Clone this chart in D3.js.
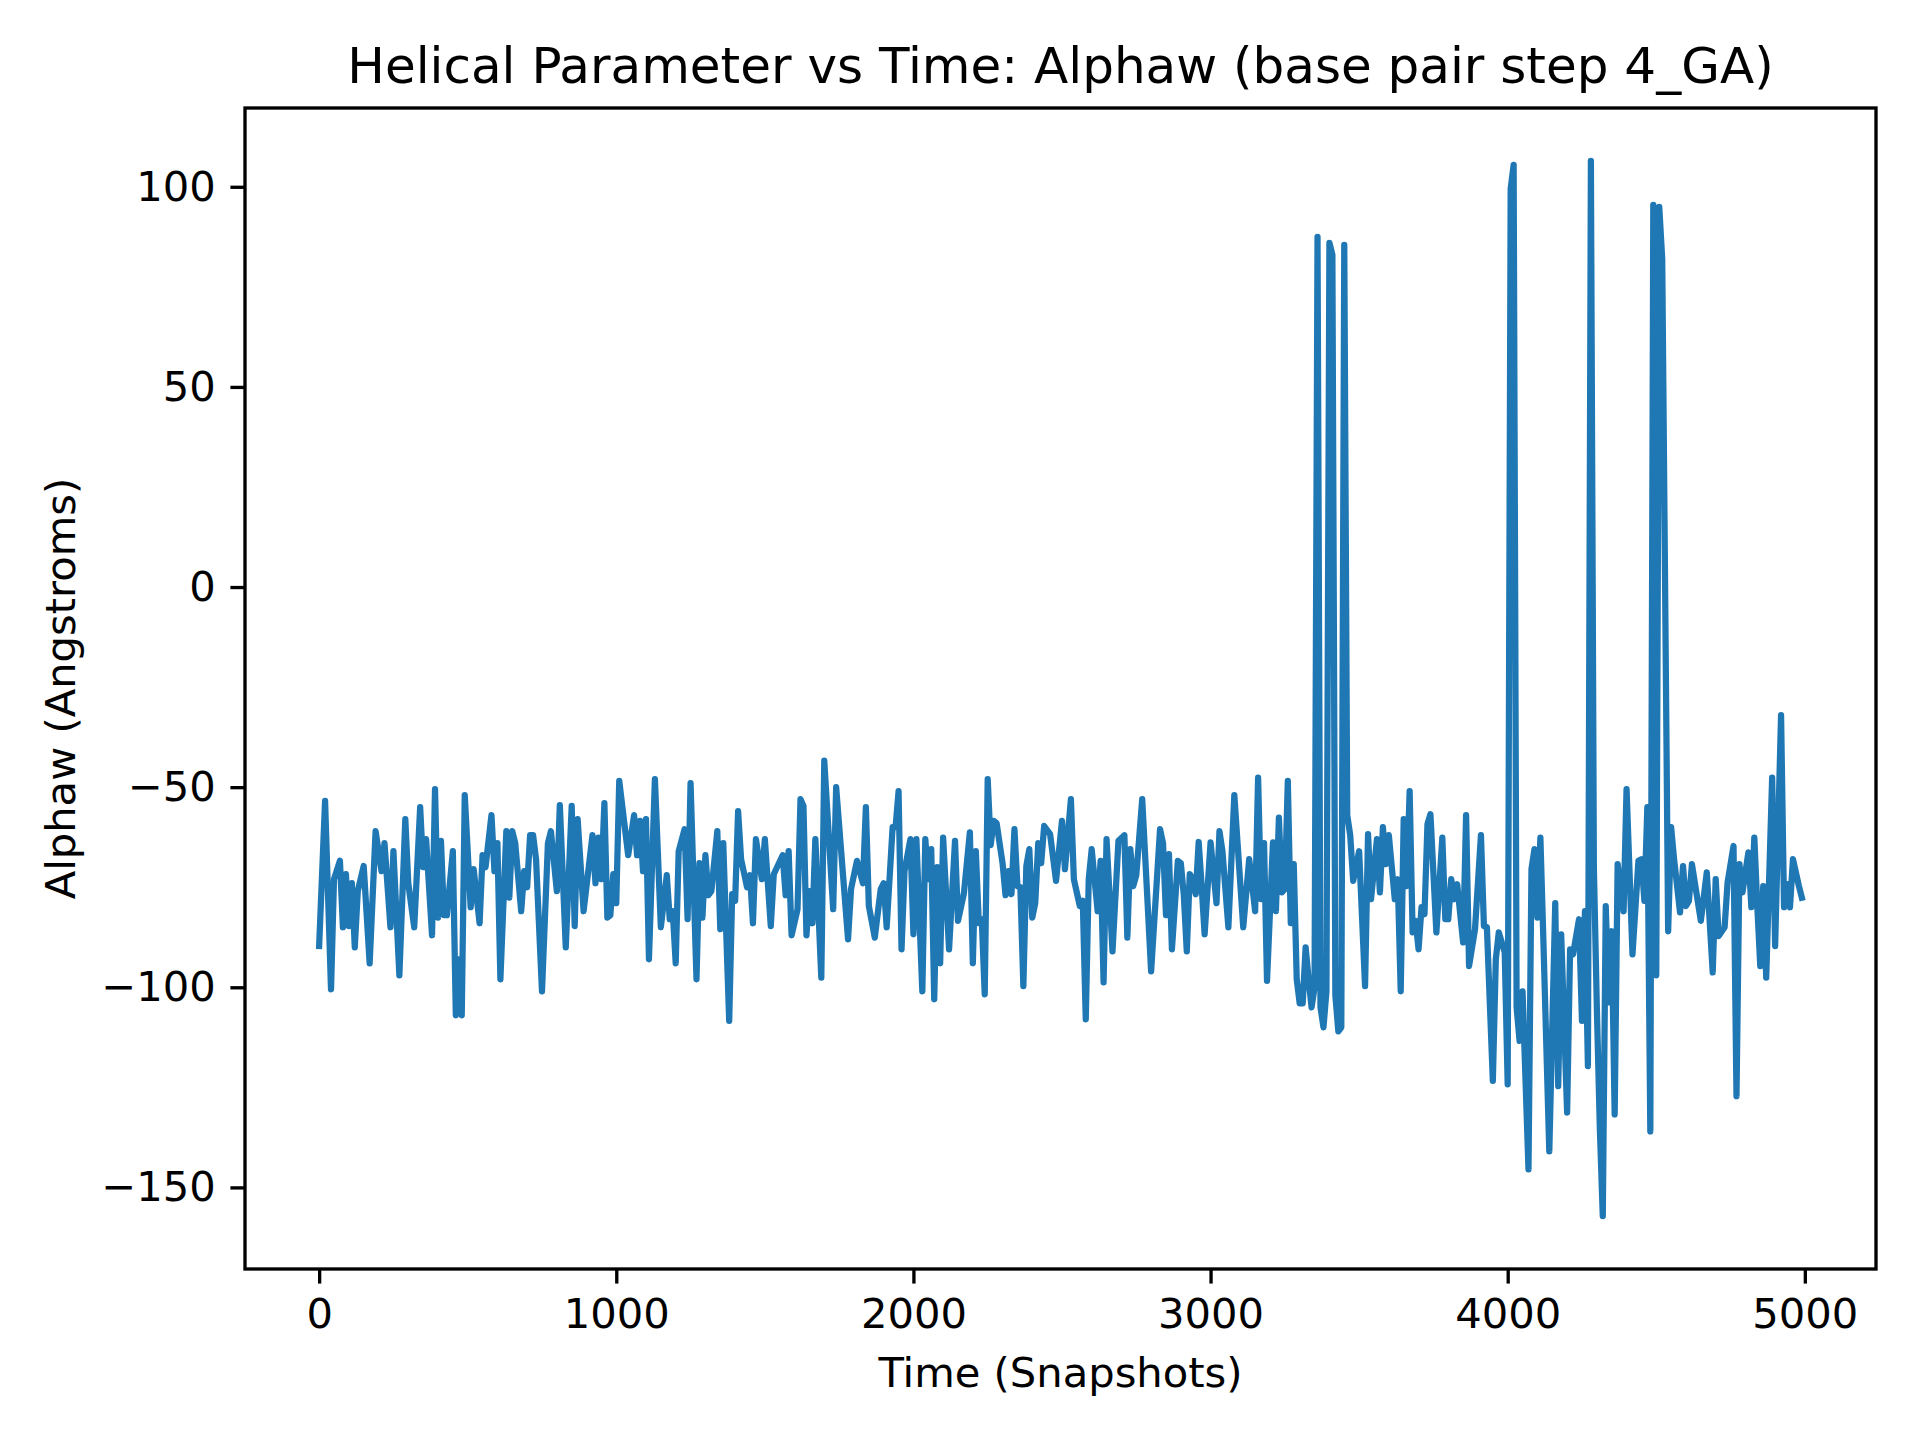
<!DOCTYPE html>
<html>
<head>
<meta charset="utf-8">
<title>Helical Parameter vs Time: Alphaw</title>
<script src="https://cdn.jsdelivr.net/npm/d3@7"></script>
<style>
  html, body { margin: 0; padding: 0; background: #fff; }
  svg { display: block; font-family: "DejaVu Sans", sans-serif; }
</style>
</head>
<body>
<svg id="chart" width="1920" height="1440"></svg>
<script>
// values (snapshot, Alphaw)
const snapshots = [
  0, 20, 40, 50, 70, 80, 90, 100, 110, 120,
  130, 150, 170, 190, 210, 220, 240, 250, 270, 290,
  300, 320, 340, 350, 360, 380, 390, 400, 410, 420,
  430, 450, 460, 470, 480, 490, 510, 520, 540, 550,
  560, 580, 590, 600, 610, 630, 640, 650, 660, 680,
  690, 700, 710, 720, 730, 750, 770, 780, 800, 810,
  830, 850, 860, 870, 890, 920, 930, 940, 950, 960,
  970, 980, 990, 1000, 1010, 1040, 1060, 1070, 1080, 1090,
  1100, 1110, 1130, 1150, 1170, 1180, 1190, 1200, 1210, 1230,
  1240, 1250, 1270, 1280, 1290, 1300, 1310, 1320, 1340, 1350,
  1360, 1380, 1390, 1400, 1410, 1420, 1440, 1450, 1460, 1470,
  1490, 1500, 1520, 1530, 1560, 1570, 1580, 1590, 1610, 1620,
  1630, 1640, 1650, 1660, 1670, 1690, 1700, 1730, 1740, 1780,
  1790, 1810, 1830, 1840, 1850, 1870, 1890, 1900, 1910, 1930,
  1940, 1950, 1960, 1970, 1990, 2000, 2010, 2030, 2040, 2050,
  2060, 2070, 2080, 2090, 2100, 2120, 2140, 2150, 2170, 2190,
  2200, 2210, 2220, 2230, 2240, 2250, 2260, 2270, 2280, 2300,
  2310, 2320, 2330, 2340, 2350, 2360, 2370, 2380, 2390, 2400,
  2410, 2420, 2430, 2440, 2460, 2480, 2500, 2510, 2530, 2540,
  2560, 2570, 2580, 2590, 2600, 2620, 2630, 2640, 2650, 2670,
  2690, 2710, 2720, 2730, 2740, 2750, 2770, 2800, 2830, 2840,
  2850, 2860, 2870, 2890, 2900, 2910, 2920, 2930, 2940, 2950,
  2960, 2970, 2980, 3000, 3020, 3030, 3040, 3060, 3080, 3110,
  3130, 3150, 3160, 3170, 3180, 3190, 3210, 3220, 3230, 3240,
  3250, 3260, 3270, 3280, 3290, 3300, 3310, 3320, 3330, 3340,
  3350, 3360, 3370, 3380, 3390, 3400, 3410, 3420, 3430, 3440,
  3450, 3460, 3470, 3480, 3500, 3520, 3530, 3540, 3560, 3570,
  3580, 3590, 3600, 3620, 3630, 3640, 3650, 3660, 3670, 3680,
  3690, 3700, 3710, 3720, 3730, 3740, 3760, 3780, 3790, 3800,
  3810, 3820, 3830, 3850, 3860, 3870, 3890, 3910, 3920, 3930,
  3950, 3960, 3970, 3990, 4000, 4010, 4020, 4030, 4040, 4050,
  4070, 4080, 4090, 4100, 4110, 4120, 4140, 4160, 4170, 4180,
  4200, 4210, 4220, 4240, 4250, 4260, 4270, 4280, 4290, 4300,
  4310, 4320, 4330, 4340, 4350, 4360, 4370, 4390, 4400, 4420,
  4440, 4450, 4460, 4470, 4480, 4490, 4500, 4510, 4520, 4540,
  4550, 4560, 4580, 4590, 4600, 4610, 4620, 4650, 4670, 4690,
  4700, 4710, 4730, 4740, 4760, 4770, 4780, 4790, 4810, 4820,
  4830, 4840, 4850, 4860, 4870, 4890, 4900, 4920, 4930, 4940,
  4950, 4960, 4980, 4990
];

const alphaw = [
  -89.7, -53.4, -100.5, -73, -68.4, -85, -71.7, -84.7, -74, -90,
  -76, -69.7, -94, -61, -71, -64, -85, -66, -97, -58,
  -74, -85, -55, -70, -63, -87, -50.5, -82.6, -63.4, -82,
  -82, -66, -107, -93, -107, -52, -80, -70.5, -84, -67,
  -70, -57, -71, -64, -98, -61, -77.6, -61, -64, -81,
  -71, -75, -62, -62, -68, -101, -64, -61, -76, -54.5,
  -90, -54.7, -84.7, -58, -81, -62, -74, -62.6, -73, -54,
  -82.6, -82, -71.75, -79, -48.4, -67, -57, -67, -58.4, -71,
  -58, -93, -48, -85, -72, -83, -81, -94, -66, -60.5,
  -83, -49, -98, -69, -82.6, -67, -77, -76, -61, -85.5,
  -64, -108.4, -76.7, -78.4, -56, -68, -75, -72, -84, -63,
  -73, -63, -84.7, -71.75, -67, -77, -66, -87, -80.5, -53,
  -54.7, -87, -76, -84, -63, -97.6, -43.4, -80.5, -50, -88,
  -75.5, -68.4, -74, -55, -79.7, -87.6, -75.5, -74, -85, -60,
  -60, -51, -90.5, -71, -63, -86.75, -63, -101, -63, -73,
  -65.5, -103, -70, -94, -62.6, -90.5, -63.4, -83.4, -76.5, -61.3,
  -94, -66, -84, -83, -101.75, -48, -64.5, -58.4, -59, -69,
  -77, -71, -76.75, -60.5, -74.7, -75, -99.7, -69.7, -65.5, -82.6,
  -79, -64, -69, -59.7, -61.75, -73.4, -58.4, -70.5, -53, -73,
  -79.7, -78.4, -108, -73, -65.5, -81, -68.4, -98.8, -63, -91,
  -63.4, -62, -87.6, -65.5, -74.7, -72, -53, -96, -60.5, -64,
  -82, -66.75, -90.5, -68.4, -69, -77, -91, -71.75, -73, -76.75,
  -63.7, -74.7, -86.75, -63.8, -79, -61, -66, -85, -52, -85,
  -68, -81, -47.6, -78, -64, -98.4, -63.8, -81, -57.6, -76.3,
  -75.5, -48.4, -84, -69.25, -98, -104, -104, -90, -98, -105,
  -100, 87.5, -105, -110, -101, 86, 83, -102, -111, -110,
  85.5, -57, -62, -73.4, -66, -99.7, -61.75, -78, -63, -76.3,
  -60, -69.25, -62, -78, -73, -101, -58, -74.7, -51, -86.3,
  -83.4, -90.5, -80, -81.75, -59.25, -56.75, -86.3, -62.6, -83, -83,
  -73, -78, -74.25, -88.8, -57, -94.7, -85.5, -62, -84.7, -85,
  -123.4, -93, -86.3, -91.3, -124.25, 99.5, 105.5, -105, -113.4, -101,
  -145.5, -70.5, -65.5, -82.6, -62.6, -88, -141, -79, -124.7, -86.75,
  -131.3, -90.5, -91.75, -83, -108.4, -81, -119.7, 106.5, -70, -105,
  -135, -157.2, -79.7, -103.8, -86, -131.75, -69.25, -81, -50.5, -91.75,
  -68.4, -68, -78.4, -55, -136, 95.5, -97, 95, 82, -86,
  -60, -68, -81.3, -69.7, -79.7, -78.4, -69.25, -83.4, -71.3, -96.3,
  -73, -87.2, -85, -73.8, -64.7, -127.2, -69.25, -76.3, -66.3, -80,
  -62.6, -79.7, -94.7, -74.7, -97.6, -47.6, -89.7, -32, -80, -74.25,
  -80, -68, -74.7, -77.6
];

const xTicks = [0, 1000, 2000, 3000, 4000, 5000];
const yTicks = [-150, -100, -50, 0, 50, 100];

const titleText = 'Helical Parameter vs Time: Alphaw (base pair step 4_GA)';
const xLabel = 'Time (Snapshots)';
const yLabel = 'Alphaw (Angstroms)';

// matplotlib-ish sizes at 300 dpi
const pt = 300 / 72;
const margin = { left: 245, right: 44, top: 108, bottom: 171 };
const W = 1920, H = 1440;
const iw = W - margin.left - margin.right;
const ih = H - margin.top - margin.bottom;

const points = snapshots.map((s, i) => ({ s, v: alphaw[i] }));

// 5% margins like autoscale
const pad = (lo, hi) => { const d = (hi - lo) * 0.05; return [lo - d, hi + d]; };
const x = d3.scaleLinear().domain(pad(...d3.extent(snapshots))).range([0, iw]);
const y = d3.scaleLinear().domain(pad(...d3.extent(alphaw))).range([ih, 0]);

const fmt = d => (d < 0 ? '\u2212' + Math.abs(d) : String(d));

const svg = d3.select('#chart');
svg.append('rect').attr('width', W).attr('height', H).attr('fill', '#fff');

const g = svg.append('g').attr('transform', `translate(${margin.left},${margin.top})`);

g.append('path')
  .datum(points)
  .attr('fill', 'none')
  .attr('stroke', '#1f77b4')
  .attr('stroke-width', 1.5 * pt)
  .attr('stroke-linejoin', 'round')
  .attr('stroke-linecap', 'square')
  .attr('d', d3.line().x(d => x(d.s)).y(d => y(d.v)));

const tickLen = 3.5 * pt;
const tickFont = 10 * pt;

const xAxis = g.append('g')
  .attr('transform', `translate(0,${ih})`)
  .call(d3.axisBottom(x).tickValues(xTicks).tickFormat(fmt)
    .tickSize(tickLen).tickPadding(tickLen));

const yAxis = g.append('g')
  .call(d3.axisLeft(y).tickValues(yTicks).tickFormat(fmt)
    .tickSize(tickLen).tickPadding(tickLen));

[xAxis, yAxis].forEach(a => {
  a.select('.domain').remove();
  a.selectAll('.tick line').attr('stroke', '#000').attr('stroke-width', 0.8 * pt);
  a.selectAll('.tick text')
    .attr('fill', '#000')
    .style('font-family', '"DejaVu Sans", sans-serif')
    .style('font-size', tickFont + 'px');
});

// spines
g.append('rect')
  .attr('width', iw)
  .attr('height', ih)
  .attr('fill', 'none')
  .attr('stroke', '#000')
  .attr('stroke-width', 0.8 * pt)
  .attr('stroke-linecap', 'square');

svg.append('text')
  .attr('x', margin.left + iw / 2)
  .attr('y', margin.top - 6 * pt)
  .attr('text-anchor', 'middle')
  .style('font-size', (12 * pt) + 'px')
  .text(titleText);

svg.append('text')
  .attr('x', margin.left + iw / 2)
  .attr('y', 1387)
  .attr('text-anchor', 'middle')
  .style('font-size', tickFont + 'px')
  .text(xLabel);

svg.append('text')
  .attr('transform', `translate(75,${margin.top + ih / 2}) rotate(-90)`)
  .attr('text-anchor', 'middle')
  .style('font-size', tickFont + 'px')
  .text(yLabel);
</script>
</body>
</html>
